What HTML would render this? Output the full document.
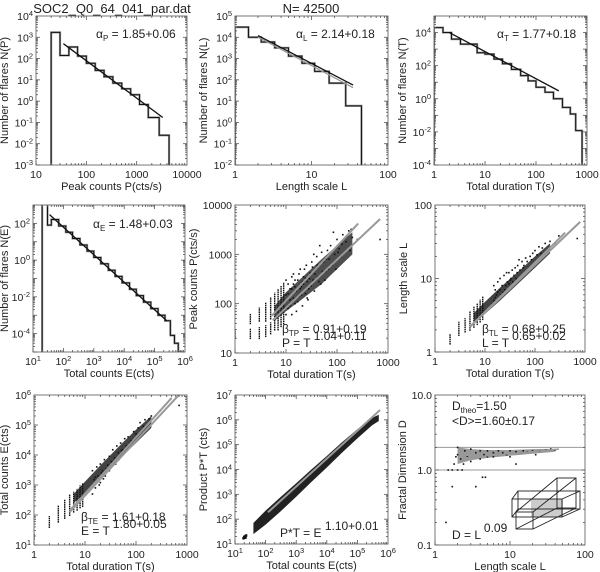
<!DOCTYPE html>
<html><head><meta charset="utf-8"><style>
html,body{margin:0;padding:0;background:#fff}
svg{display:block}
text{font-family:"Liberation Sans",sans-serif;fill:#222}
</style></head><body>
<svg id="fig" width="600" height="572" viewBox="0 0 600 572" xmlns="http://www.w3.org/2000/svg">
<text x="112" y="13" font-size="13" text-anchor="middle">SOC2_Q0_64_041_par.dat</text>
<text x="311" y="13" font-size="13" text-anchor="middle">N= 42500</text>
</svg>
<script>
// ---- data ----
const pEdges=[20,30,45,67,100,150,225,337,506,760,1140,1700,2800,4400];
const pCounts=[1700,140,350,130,60,28,14,7,3.8,2,0.7,0.17,0.025];
const pFitX=[35,3300], pFitY=[500,0.17];
const lEdges=[1,1.5,2.2,3.3,5,7.5,11,17,28,45];
const lCounts=[3e4,1e4,6e3,3.2e3,1.3e3,600,250,70,6];
const lFitX=[2,35], lFitY=[1.2e4,57];
const tEdges=[1,1.5,2.2,3.3,5,7,10,15,22,33,50,70,100,150,220,330,470,600,800];
const tCounts=[2e4,1e4,4e3,2e3,2e3,600,500,250,130,60,25,12,5,2.5,1,0.3,0.12,0.012];
const tFitX=[2,280], tFitY=[1e4,3];
const eEdges=[20,30,40,70,120,200,350,600,1000,1700,3000,5000,8500,15000,25000,43000,75000,130000,220000,330000,450000,600000,750000];
const eCounts=[2000,80,163,72,33,15,6.7,3.1,1.4,0.63,0.28,0.13,0.058,0.026,0.0117,0.0052,0.0023,0.001,5e-4,8e-5,3e-5,1e-5];
const eFitX=[35,2.5e5], eFitY=[300,5e-4];
// panel 5: T vs P
const tpCols=[[1,20,28],[2,20,30],[2,40,60],[3,20,32],[3,45,80],[4,22,35],[4,45,100],[5,25,40],[5,50,130],[6,30,160],[7,30,190],[8,35,220],[9,40,260]];
const tpCoreT=[6,10,20,50,100,200];
const tpCoreLo=[45,70,120,250,500,1000];
const tpCoreHi=[90,170,330,800,1500,2800];
const tpPts=[[10,150],[10,300],[11,80],[12,200],[12,120],[13,60],[14,250],[14,400],[15,100],[16,180],[17,300],[18,140],[19,500],[20,220],[21,90],[22,350],[24,160],[25,600],[26,280],[28,200],[30,420],[32,700],[34,300],[36,180],[38,500],[40,900],[42,350],[45,600],[48,250],[50,1100],[55,700],[60,450],[65,1200],[70,800],[75,1500],[80,600],[90,1000],[100,2000],[110,1300],[120,900],[130,2500],[150,1800],[170,3000],[180,1200],[200,2200],[220,3500],[250,2000],[700,2000],[11,250],[13,350],[16,70],[23,500],[27,120],[35,1000],[46,1500],[58,300],[85,2800],[95,500],[10,60],[12,90],[14,130],[15,220],[17,110],[18,400],[20,150],[22,250],[24,330],[26,130],[29,320],[31,230],[33,550],[37,400],[41,600],[44,280],[52,450],[62,800],[68,500],[78,1100],[88,700],[105,1100],[125,1600],[160,2400],[190,3200],[11,160],[13,200],[15,300],[19,200],[21,280]];
const tpFit1X=[5.3,260], tpFit1Y=[57,4200];
const tpFit2X=[5.5,700], tpFit2Y=[46,5200];
// panel 6: T vs L
const tlCols=[[2,1.3,1.7],[3,1.7,2.5],[4,1.9,2.8],[5,2,3.5],[6,2.2,4],[7,2.4,4.5],[8,2.6,5],[9,2.8,5.5]];
const tlCoreT=[6,10,20,50,100,200];
const tlCoreLo=[2.4,3.3,5,9,14,22];
const tlCoreHi=[3.4,4.8,7.5,13,20,30];
const tlPts=[[15,5],[15,8],[17,6],[18,9],[20,7],[20,10],[22,8],[24,11],[25,7],[28,9],[30,12],[30,8.5],[33,10],[35,13],[38,11],[40,14],[42,10],[45,15],[50,13],[55,17],[60,15],[65,19],[70,17],[80,20],[90,22],[100,24],[110,21],[120,27],[140,26],[160,30],[200,32],[250,30],[300,38],[700,35],[14,4.5],[16,7],[19,5.5],[23,6.5],[27,12],[36,9],[48,18],[75,14],[16,5.5],[18,6.5],[21,6],[26,8],[32,9.5],[44,12],[58,14],[85,18],[130,22]];
const tlFit1X=[5,800], tlFit1Y=[2.2,59];
const tlFit2X=[5,400], tlFit2Y=[2.2,42];
// panel 7: T vs E
const teCols=[[1,16,22],[2,40,85],[3,60,200],[4,80,300],[5,100,450],[6,130,550],[7,150,700],[8,180,900],[9,200,1100]];
const teCoreT=[6,10,20,50,100,200];
const teCoreLo=[250,500,1500,8000,25000,80000];
const teCoreHi=[500,1300,4500,22000,70000,200000];
const tePts=[[14,500],[14,3000],[15,1500],[16,800],[17,4000],[18,2000],[20,1200],[20,5000],[22,3000],[24,7000],[25,2000],[28,4500],[30,9000],[30,3000],[33,6000],[35,15000],[38,8000],[40,5000],[42,20000],[45,12000],[50,25000],[50,9000],[55,15000],[60,35000],[65,20000],[70,40000],[80,30000],[90,60000],[100,50000],[110,80000],[120,120000],[140,90000],[150,150000],[180,160000],[200,200000],[250,220000],[300,300000],[700,450000],[16,1800],[19,1000],[21,2500],[23,1600],[26,3500],[32,4000],[36,6000],[46,7000],[52,14000],[75,25000],[95,35000]];
const teFit1X=[5,730], teFit1Y=[125,1.1e6];
const teFit2X=[5,500], teFit2Y=[140,8e5];
// panel 8: E vs P*T band
const epE=[40,100,300,1000,3000,10000,30000,100000,300000,500000];
const epLo=[25,60,200,800,3000,12000,45000,180000,600000,900000];
const epHi=[70,220,750,2800,9500,35000,120000,420000,1200000,1600000];
const epClusterE=[[19,17],[21,20],[23,22],[20,19],[22,18]];
const epFitX=[120,5.5e5], epFitY=[190,2.5e6];
// panel 9: L vs D
const ldPts=[[1.5,1],[1.7,1],[2,1],[2.3,1],[1.8,1.2],[2,1.6],[2,2],[2.2,1.4],[2.5,1.8],[2.7,1.5],[3,1.9],[3,1.3],[3.5,1.7],[4,1.8],[4,1.4],[4.5,1.6],[5,1.8],[5,1.5],[6,1.7],[6,1.5],[7,1.8],[7,1.6],[8,1.7],[9,1.6],[10,1.8],[10,1.5],[12,1.75],[12,1.2],[14,1.7],[15,1.8],[17,1.75],[20,1.8],[22,1.6],[25,1.8],[30,1.85],[35,1.9],[40,1.85],[4.3,0.8],[4.7,0.8],[1.7,0.6],[3.5,0.6],[1.4,0.2],[2.4,1.2],[1.9,1.5]];
const ldBandL=[2,3,5,10,20,40];
const ldBandLo=[1.2,1.35,1.45,1.55,1.65,1.75];
const ldBandHi=[2,1.9,1.85,1.85,1.9,1.92];
const ldFitX=[2.5,45], ldFitY=[1.45,1.9];

// ---- drawing ----
const svg=document.getElementById('fig');
const NS='http://www.w3.org/2000/svg';
function el(tag,attrs,parent){const e=document.createElementNS(NS,tag);for(const k in attrs)e.setAttribute(k,attrs[k]);(parent||svg).appendChild(e);return e;}
const L10=Math.log10;
function panel(name,x0,y0,w,h,xmin,xmax,ymin,ymax){
  const g=el('g',{});
  
  
  const sx=v=>x0+(L10(v)-L10(xmin))/(L10(xmax)-L10(xmin))*w;
  const sy=v=>y0+h-(L10(v)-L10(ymin))/(L10(ymax)-L10(ymin))*h;
  const clip=el('clipPath',{id:'c'+name},g);el('rect',{x:x0,y:y0,width:w,height:h},clip);
  const inner=el('g',{'clip-path':'url(#c'+name+')'},g);
  return {g,inner,sx,sy,x0,y0,w,h,xmin,xmax,ymin,ymax};
}
function frame(p,xlabels,ylabels){
  const {g,x0,y0,w,h}=p;
  const ax=el('g',{stroke:'#555','stroke-width':0.8,fill:'none'},g);
  
  
  el('rect',{x:x0,y:y0,width:w,height:h},ax);
  for(let d=Math.floor(L10(p.xmin));d<Math.ceil(L10(p.xmax));d++){for(let m=1;m<10;m++){const v=m*Math.pow(10,d);if(v<p.xmin*0.999||v>p.xmax*1.001)continue;const X=p.sx(v),t=m==1?4:2;
    el('line',{x1:X,y1:y0+h,x2:X,y2:y0+h-t},ax);el('line',{x1:X,y1:y0,x2:X,y2:y0+t},ax);}}
  for(let d=Math.floor(L10(p.ymin));d<Math.ceil(L10(p.ymax));d++){for(let m=1;m<10;m++){const v=m*Math.pow(10,d);if(v<p.ymin*0.999||v>p.ymax*1.001)continue;const Y=p.sy(v),t=m==1?4:2;
    el('line',{x1:x0,y1:Y,x2:x0+t,y2:Y},ax);el('line',{x1:x0+w,y1:Y,x2:x0+w-t,y2:Y},ax);}}
  xlabels.forEach(([v,s])=>{const t=el('text',{x:p.sx(v),y:y0+h+13,'font-size':10.5,'text-anchor':'middle'},g);setLbl(t,s);
    });
  ylabels.forEach(([v,s])=>{const t=el('text',{x:x0-3,y:p.sy(v)+4,'font-size':10.5,'text-anchor':'end'},g);setLbl(t,s);
    });
}
function setLbl(t,s){const m=s.split('^');t.appendChild(document.createTextNode(m[0]));if(m.length>1){const ts=el('tspan',{dy:-4,'font-size':7.5},t);ts.textContent=m[1];}}
function pow(a,b){const r=[];for(let k=a;k<=b;k++)r.push([Math.pow(10,k),'10^'+k]);return r;}
function titles(p,xt,yt,ytx){
  const t1=el('text',{x:p.x0+p.w/2,y:p.y0+p.h+25,'font-size':11,'text-anchor':'middle'},p.g);t1.textContent=xt;
  
  const cx=ytx,cy=p.y0+p.h/2;
  const t2=el('text',{x:cx,y:cy,'font-size':11,'text-anchor':'middle',transform:`rotate(-90 ${cx} ${cy})`},p.g);t2.textContent=yt;
  
}
function hist(p,edges,counts,color,sw){
  let d='M'+p.sx(edges[0])+' '+(p.y0+p.h+2);
  counts.forEach((c,i)=>{const Y=p.sy(c);d+=` L${p.sx(edges[i])} ${Y} L${p.sx(edges[i+1])} ${Y}`;});
  d+=` L${p.sx(edges[edges.length-1])} ${p.y0+p.h+2}`;
  const e=el('path',{d,fill:'none',stroke:color,'stroke-width':sw},p.inner);
  
}
function line(p,xs,ys,color,sw,name){
  const e=el('line',{x1:p.sx(xs[0]),y1:p.sy(ys[0]),x2:p.sx(xs[1]),y2:p.sy(ys[1]),stroke:color,'stroke-width':sw},p.inner);
  
}
function pts(p,arr,sz){
  const g=el('g',{fill:'#111'},p.inner);
  
  arr.forEach(([a,b])=>el('rect',{x:p.sx(a)-sz/2,y:p.sy(b)-sz/2,width:sz,height:sz},g));
}
function cols(p,arr){
  const g=el('g',{stroke:'#111','stroke-width':1.4,'stroke-dasharray':'1.6 0.6'},p.inner);
  
  arr.forEach(([a,lo,hi])=>el('line',{x1:p.sx(a),x2:p.sx(a),y1:p.sy(lo)+1,y2:p.sy(hi)-1},g));
}
function band(p,xs,lo,hi,name,fill,op){
  let d='M'+xs.map((x,i)=>p.sx(x)+' '+p.sy(lo[i])).join(' L');
  d+=' L'+xs.map((x,i)=>p.sx(x)+' '+p.sy(hi[i])).reverse().join(' L')+' Z';
  const e=el('path',{d,fill:fill||'#111',stroke:'none','fill-opacity':op||1},p.inner);
  
}
function label(p,x,y,parts,fs){
  const t=el('text',{x,y,'font-size':fs||12},p.g);
  
  parts.forEach(([s,kind])=>{const ts=el('tspan',{},t);ts.textContent=s;
    if(kind==='sub'){ts.setAttribute('font-size',8);ts.setAttribute('dy',3);}
    else if(kind==='back'){ts.setAttribute('dy',-3);}
    else if(kind==='sup'){ts.setAttribute('dy',-7);}
  });
}
const G='#999',K='#111';
// P1
let p=panel('peak-histogram-panel',36,16,151,149,10,1e4,1e-3,1e4);
hist(p,pEdges,pCounts,G,2.2);hist(p,pEdges,pCounts,K,1);line(p,pFitX,pFitY,K,1.3,'fit-line');
frame(p,[[10,'10'],[100,'100'],[1000,'1000'],[1e4,'10000']],pow(-3,4));
titles(p,'Peak counts P(cts/s)','Number of flares N(P)',8);
label(p,96,38,[['α','n'],['P','sub'],[' =  1.85+0.06','back']]);
// P2
p=panel('length-histogram-panel',235,16,153,149,1,100,1e-2,1e5);
hist(p,lEdges,lCounts,G,2.2);hist(p,lEdges,lCounts,K,1);line(p,lFitX,[lFitY[0]*0.85,lFitY[1]*0.75],G,1.3,'fit-line-gray');line(p,lFitX,lFitY,K,1.3,'fit-line');
frame(p,[[1,'1'],[10,'10'],[100,'100']],pow(-2,5));
titles(p,'Length scale L','Number of flares N(L)',207);
label(p,296,38,[['α','n'],['L','sub'],[' =  2.14+0.18','back']]);
// P3
p=panel('duration-histogram-panel',434,16,153,149,1,1000,1e-4,1e5);
hist(p,tEdges,tCounts,G,2.2);hist(p,tEdges,tCounts,K,1);line(p,tFitX,tFitY,K,1.3,'fit-line');
frame(p,[[1,'1'],[10,'10'],[100,'100'],[1000,'1000']],[[1e4,'10^4'],[1e2,'10^2'],[1,'10^0'],[1e-2,'10^-2'],[1e-4,'10^-4']]);
titles(p,'Total duration  T(s)','Number of flares N(T)',406);
label(p,497,38,[['α','n'],['T','sub'],[' =  1.77+0.18','back']]);
// P4
p=panel('energy-histogram-panel',33,205,152,147,10,1e6,1e-5,1e3);
hist(p,eEdges,eCounts,G,2.2);hist(p,eEdges,eCounts,K,1);line(p,eFitX,eFitY,K,1.3,'fit-line');
frame(p,pow(1,6),[[1e2,'10^2'],[1,'10^0'],[1e-2,'10^-2'],[1e-4,'10^-4']]);
titles(p,'Total counts  E(cts)','Number of flares N(E)',8);
label(p,93,228,[['α','n'],['E','sub'],[' =  1.48+0.03','back']]);
// P5
p=panel('duration-peak-scatter',235,205,153,148,1,1000,10,1e4);
band(p,tpCoreT,tpCoreLo,tpCoreHi,'dense-core','#222',0.8);
cols(p,tpCols);pts(p,tpPts,1.6);line(p,tpFit1X,tpFit1Y,G,2,'fit-line-1');line(p,tpFit2X,tpFit2Y,G,2,'fit-line-2');
frame(p,[[1,'1'],[10,'10'],[100,'100'],[1000,'1000']],[[10,'10'],[100,'100'],[1000,'1000'],[1e4,'10000']]);
titles(p,'Total duration  T(s)','Peak counts P(cts/s)',197);
label(p,282,333,[['β','n'],['TP','sub'],[' = 0.91+0.19','back']]);
label(p,282,347,[['P = T ','n'],['1.04+0.11','sup']]);
// P6
p=panel('duration-length-scatter',435,205,150,147,1,1000,1,100);
band(p,tlCoreT,tlCoreLo,tlCoreHi,'dense-core','#222',0.85);
cols(p,tlCols);pts(p,tlPts,1.6);line(p,tlFit1X,tlFit1Y,G,2,'fit-line-1');line(p,tlFit2X,tlFit2Y,G,2,'fit-line-2');
frame(p,[[1,'1'],[10,'10'],[100,'100'],[1000,'1000']],[[1,'1'],[10,'10'],[100,'100']]);
titles(p,'Total duration  T(s)','Length scale L',407);
label(p,482,333,[['β','n'],['TL','sub'],[' = 0.68+0.25','back']]);
label(p,482,347,[['L = T ','n'],['0.65+0.02','sup']]);
// P7
p=panel('duration-energy-scatter',34,395,153,150,1,1000,10,1e6);
band(p,teCoreT,teCoreLo,teCoreHi,'dense-core','#222',0.85);
cols(p,teCols);pts(p,tePts,1.6);line(p,teFit1X,teFit1Y,G,2,'fit-line-1');line(p,teFit2X,teFit2Y,G,2,'fit-line-2');
frame(p,[[1,'1'],[10,'10'],[100,'100'],[1000,'1000']],pow(1,6));
titles(p,'Total duration  T(s)','Total counts  E(cts)',8);
label(p,81,521,[['β','n'],['TE','sub'],[' = 1.61+0.18','back']]);
label(p,81,535,[['E = T ','n'],['1.80+0.05','sup']]);
// P8
p=panel('energy-product-scatter',235,395,153,149,10,1e6,10,1e7);
band(p,epE,epLo,epHi,'data-band','#222',1);pts(p,epClusterE,2.5);line(p,epFitX,epFitY,G,2,'fit-line');
frame(p,pow(1,6),pow(1,7));
titles(p,'Total counts  E(cts)','Product  P*T (cts)',207);
label(p,280,537,[['P*T = E ','n'],['1.10+0.01','sup']]);
// P9
p=panel('fractal-dimension-panel',435,395,150,150,1,100,0.1,10);
el('line',{x1:p.x0,x2:p.x0+p.w,y1:p.sy(2),y2:p.sy(2),stroke:G,'stroke-width':1},p.inner);
el('line',{x1:p.x0,x2:p.x0+p.w,y1:p.sy(1),y2:p.sy(1),stroke:G,'stroke-width':1},p.inner);
band(p,ldBandL,ldBandLo,ldBandHi,'data-band','#333',0.5);pts(p,ldPts,1.6);line(p,ldFitX,ldFitY,G,1.5,'fit-line');
frame(p,[[1,'1'],[10,'10'],[100,'100']],[[0.1,'0.1'],[1,'1.0'],[10,'10.0']]);
titles(p,'Length scale L','Fractal Dimension D',406);
label(p,452,410,[['D','n'],['theo','sub'],['=1.50','back']]);
label(p,452,425,[['<D>=1.60±0.17','n']]);
label(p,452,539,[['D = L ','n'],['0.09','sup']]);
// box illustration (decorative)
const bx=el('g',{fill:'none',stroke:'#222','stroke-width':0.9},p.g);

el('rect',{x:531,y:499,width:32,height:18,fill:'#ccc',stroke:'none'},bx);
el('rect',{x:512,y:499,width:50,height:18},bx);
el('rect',{x:518,y:491,width:62,height:18},bx);
el('line',{x1:512,y1:499,x2:518,y2:491},bx);el('line',{x1:562,y1:499,x2:580,y2:491},bx);
el('line',{x1:512,y1:517,x2:518,y2:509},bx);el('line',{x1:562,y1:517,x2:580,y2:509},bx);
el('rect',{x:516,y:512,width:17,height:17},bx);
el('rect',{x:557,y:478,width:19,height:30},bx);
el('line',{x1:516,y1:512,x2:557,y2:478},bx);el('line',{x1:533,y1:512,x2:576,y2:478},bx);
el('line',{x1:516,y1:529,x2:557,y2:508},bx);el('line',{x1:533,y1:529,x2:576,y2:508},bx);
</script>
</body></html>
